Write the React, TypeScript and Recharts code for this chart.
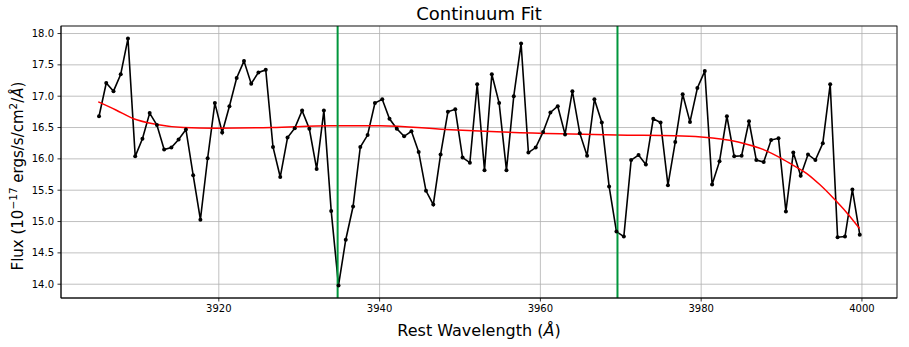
import React from "react";
import {
  ComposedChart,
  Line,
  XAxis,
  YAxis,
  CartesianGrid,
  ReferenceLine,
} from "recharts";

const wavelengths = [
  3905.1, 3906.0, 3906.9, 3907.8, 3908.7, 3909.6, 3910.5, 3911.4, 3912.3, 3913.2,
  3914.1, 3915.0, 3915.91, 3916.81, 3917.71, 3918.61, 3919.51, 3920.42, 3921.32, 3922.22,
  3923.13, 3924.03, 3924.93, 3925.84, 3926.74, 3927.64, 3928.55, 3929.45, 3930.36, 3931.26,
  3932.17, 3933.07, 3933.98, 3934.89, 3935.79, 3936.7, 3937.6, 3938.51, 3939.42, 3940.33,
  3941.23, 3942.14, 3943.05, 3943.96, 3944.86, 3945.77, 3946.68, 3947.59, 3948.5, 3949.41,
  3950.32, 3951.23, 3952.14, 3953.05, 3953.96, 3954.87, 3955.78, 3956.69, 3957.6, 3958.51,
  3959.42, 3960.34, 3961.25, 3962.16, 3963.07, 3963.98, 3964.9, 3965.81, 3966.72, 3967.64,
  3968.55, 3969.46, 3970.38, 3971.29, 3972.21, 3973.12, 3974.04, 3974.95, 3975.87, 3976.78,
  3977.7, 3978.61, 3979.53, 3980.45, 3981.36, 3982.28, 3983.2, 3984.11, 3985.03, 3985.95,
  3986.86, 3987.78, 3988.7, 3989.62, 3990.54, 3991.46, 3992.38, 3993.29, 3994.21, 3995.13,
  3996.05, 3996.97, 3997.89, 3998.81, 3999.73,
];

const fluxValues = [
  16.68, 17.21, 17.08, 17.35, 17.92, 16.04, 16.32, 16.73, 16.54, 16.15,
  16.18, 16.31, 16.47, 15.74, 15.03, 16.01, 16.89, 16.42, 16.84, 17.29,
  17.56, 17.2, 17.38, 17.42, 16.19, 15.71, 16.34, 16.49, 16.77, 16.48,
  15.84, 16.77, 15.17, 13.98, 14.71, 15.24, 16.19, 16.38, 16.89, 16.95,
  16.64, 16.48, 16.36, 16.44, 16.11, 15.49, 15.27, 16.07, 16.75, 16.79,
  16.02, 15.94, 17.19, 15.82, 17.35, 16.89, 15.82, 17.0, 17.84, 16.1,
  16.18, 16.43, 16.74, 16.84, 16.39, 17.08, 16.41, 16.05, 16.95, 16.58,
  15.56, 14.84, 14.76, 15.98, 16.06, 15.91, 16.64, 16.58, 15.58, 16.27,
  17.03, 16.59, 17.13, 17.4, 15.59, 15.96, 16.68, 16.04, 16.05, 16.6,
  15.98, 15.95, 16.3, 16.33, 15.16, 16.1, 15.73, 16.07, 15.98, 16.25,
  17.19, 14.75, 14.76, 15.51, 14.79,
];

// continuum fit, sampled off the red curve
const fitWavelengths = [
  3905.0, 3907.2, 3909.4, 3912.3, 3915.6, 3919.6, 3926.6, 3933.9, 3940.1, 3948.2,
  3953.1, 3962.5, 3969.5, 3976.7, 3980.0, 3984.6, 3987.9, 3989.8, 3991.4, 3993.1,
  3994.75, 3996.4, 3998.06, 3999.7,
];
const fitValues = [
  16.91, 16.78, 16.64, 16.55, 16.5, 16.49, 16.5, 16.53, 16.53, 16.47,
  16.44, 16.4, 16.38, 16.37, 16.35, 16.27, 16.14, 16.02, 15.9, 15.77,
  15.59, 15.38, 15.15, 14.89,
];

// Ca II K and H
const lineCenters = [3934.78, 3969.59];

const xTicks = [3920, 3940, 3960, 3980, 4000];
const yTicks = [14.0, 14.5, 15.0, 15.5, 16.0, 16.5, 17.0, 17.5, 18.0];

const FONT = "'DejaVu Sans', sans-serif";
const W = 909;
const H = 347;

const specData = wavelengths.map((wl, i) => ({ wl, flux: fluxValues[i] }));
const fitData = fitWavelengths.map((wl, i) => ({ wl, fit: fitValues[i] }));

export default function App() {
  const tickStyle = { fill: "#000", fontSize: 10, fontFamily: FONT };
  return (
    <div
      style={{
        position: "absolute",
        left: 0,
        top: 0,
        width: W,
        height: H,
        background: "#fff",
      }}
    >
      <ComposedChart
        width={W}
        height={H}
        margin={{ top: 26, right: 12, bottom: 0, left: 0 }}
      >
        <CartesianGrid stroke="#b0b0b0" strokeWidth={0.8} />
        <XAxis
          dataKey="wl"
          type="number"
          domain={[3900.37, 4004.36]}
          ticks={xTicks}
          allowDataOverflow
          height={49}
          tickSize={3.5}
          tickMargin={3.5}
          tick={tickStyle}
          axisLine={{ stroke: "#000", strokeWidth: 0.8 }}
          tickLine={{ stroke: "#000", strokeWidth: 0.8 }}
        />
        <YAxis
          type="number"
          domain={[13.78, 18.12]}
          ticks={yTicks}
          allowDataOverflow
          width={61}
          tickSize={3.5}
          tickMargin={3.5}
          tick={tickStyle}
          tickFormatter={(v: number) => v.toFixed(1)}
          axisLine={{ stroke: "#000", strokeWidth: 0.8 }}
          tickLine={{ stroke: "#000", strokeWidth: 0.8 }}
        />
        <Line
          data={specData}
          dataKey="flux"
          type="linear"
          stroke="#000"
          strokeWidth={1.6}
          dot={{ r: 2, fill: "#000", stroke: "#000", strokeWidth: 0 }}
          isAnimationActive={false}
        />
        <Line
          data={fitData}
          dataKey="fit"
          type="monotone"
          stroke="#ff0000"
          strokeWidth={1.5}
          dot={false}
          isAnimationActive={false}
        />
        {lineCenters.map((c) => (
          <ReferenceLine key={c} x={c} stroke="#00963c" strokeWidth={2} />
        ))}
      </ComposedChart>

      <svg
        width={W}
        height={H}
        style={{ position: "absolute", left: 0, top: 0, pointerEvents: "none" }}
        fontFamily={FONT}
      >
        <rect x={61} y={26} width={836} height={272} fill="none" stroke="#000" strokeWidth={0.8} />
        <text x={479} y={20} textAnchor="middle" fontSize={18} fill="#000">
          Continuum Fit
        </text>
        <text x={479} y={336} textAnchor="middle" fontSize={16} fill="#000">
          Rest Wavelength (<tspan fontStyle="italic">Å</tspan>)
        </text>
        <text
          transform="translate(23,176) rotate(-90)"
          textAnchor="middle"
          fontSize={15}
          fill="#000"
        >
          Flux (10
          <tspan fontSize={10.5} dy={-6.5}>−17</tspan>
          <tspan dy={6.5}> ergs/s/cm</tspan>
          <tspan fontSize={10.5} dy={-6.5}>2</tspan>
          <tspan dy={6.5}>/</tspan>
          <tspan fontStyle="italic">Å</tspan>)
        </text>
      </svg>
    </div>
  );
}
